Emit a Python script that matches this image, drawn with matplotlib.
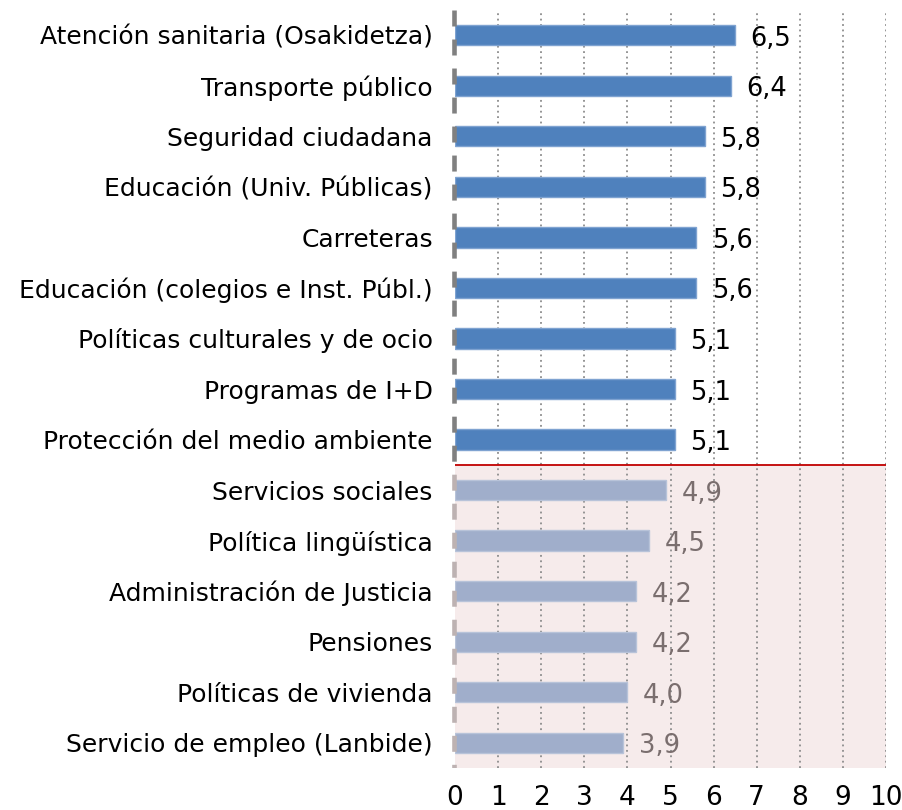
import matplotlib.pyplot as plt
from matplotlib.patches import Rectangle

categorias = [
    "Atención sanitaria (Osakidetza)",
    "Transporte público",
    "Seguridad ciudadana",
    "Educación (Univ. Públicas)",
    "Carreteras",
    "Educación (colegios e Inst. Públ.)",
    "Políticas culturales y de ocio",
    "Programas de I+D",
    "Protección del medio ambiente",
    "Servicios sociales",
    "Política lingüística",
    "Administración de Justicia",
    "Pensiones",
    "Políticas de vivienda",
    "Servicio de empleo (Lanbide)",
]
notas = [6.5, 6.4, 5.8, 5.8, 5.6, 5.6, 5.1, 5.1, 5.1, 4.9, 4.5, 4.2, 4.2, 4.0, 3.9]
aprobado = 5

plt.rcParams['font.family'] = ['DejaVu Sans']

fig = plt.figure(figsize=(9.03, 8.1), dpi=100)
ax = fig.add_axes([455 / 903, 1 - 768 / 810, 431 / 903, 758 / 810])

n = len(categorias)
y = list(range(n))
n_aprob = sum(1 for v in notas if v >= aprobado)
corte = n_aprob - 0.5

# zona de suspenso
ax.add_patch(Rectangle((0, corte), 10, n - n_aprob + 0.4,
                       facecolor="#F6EBEB", edgecolor="none", zorder=0))

colores = ["#4F81BD" if v >= aprobado else "#A0AECB" for v in notas]
bordes = ["#7FA3D1" if v >= aprobado else "#B8C3D9" for v in notas]
ax.barh(y, notas, height=0.4, color=colores, edgecolor=bordes, linewidth=1, zorder=3)

for i, v in enumerate(notas):
    col = "black" if v >= aprobado else "#7A6E6E"
    ax.text(v + 0.36, i + 0.07, f"{v:.1f}".replace(".", ","), va="center", ha="left",
            fontsize=18.5, color=col, zorder=4)

# rejilla
for xv in range(1, 11):
    ax.axvline(xv, color="#8C8C8C", lw=1.3, ls=(0, (1, 2)), zorder=1)

# eje vertical discontinuo (mismo patron, dos colores)
for color, y0, y1 in [("#808080", -0.6, corte), ("#BDB2B2", corte, n - 0.5)]:
    ln, = ax.plot([-0.02, -0.02], [-0.5, n - 0.5], color=color, lw=3.3,
                  ls=(0, (3.49, 2.84)), zorder=5)
    clip = Rectangle((-1, y0), 2, y1 - y0, transform=ax.transData)
    ln.set_clip_path(clip)

ax.plot([0, 10], [corte, corte], color="#C00000", lw=1.3, zorder=3)

ax.set_xlim(0, 10)
ax.set_ylim(n - 0.5, -0.5)
ax.set_xticks(range(11))
ax.set_yticks(y)
ax.set_yticklabels(categorias)
ax.tick_params(axis="y", length=0, pad=16, labelsize=18)
ax.tick_params(axis="x", length=0, pad=12, labelsize=19)
for s in ax.spines.values():
    s.set_visible(False)

fig.savefig("out.png", dpi=100)
